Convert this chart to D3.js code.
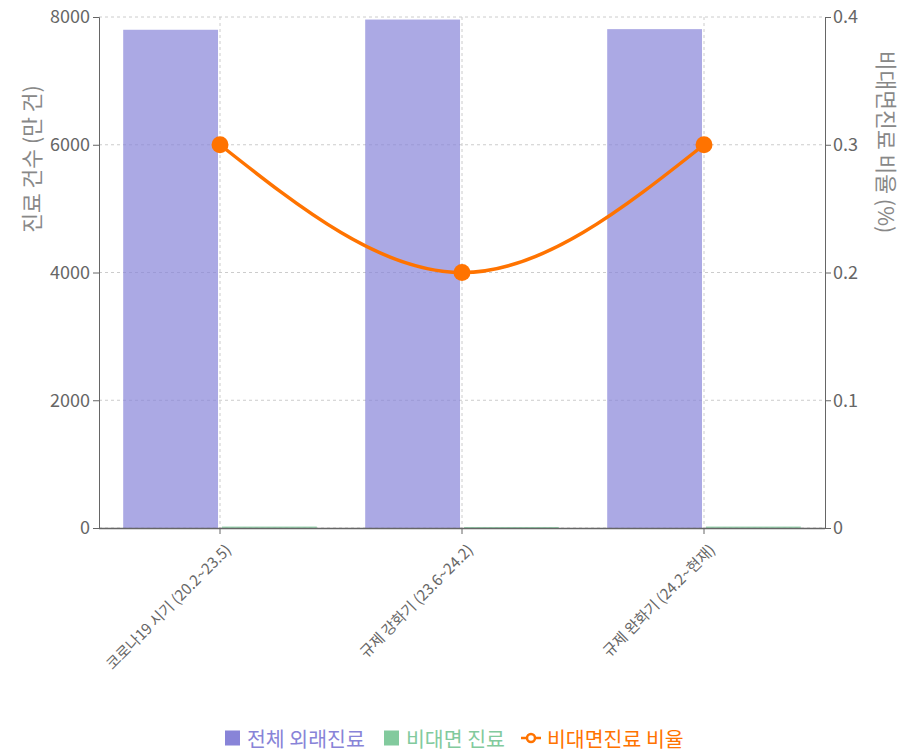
<!DOCTYPE html>
<html><head><meta charset="utf-8">
<script src="https://cdn.jsdelivr.net/npm/d3@7"></script>
<style>
body{margin:0;background:#fff;font-family:"Noto Sans CJK KR","Noto Sans",sans-serif;}
</style></head>
<body><svg id="c" width="920" height="754"></svg>
<script>
const categories = ["코로나19 시기 (20.2~23.5)", "규제 강화기 (23.6~24.2)", "규제 완화기 (24.2~현재)"];
const totalVisits = [7800, 7960, 7810];
const remoteVisits = [23, 16, 23];
const remoteRatio = [0.3, 0.2, 0.3];
const leftTicks = [0, 2000, 4000, 6000, 8000];
const rightTicks = [0, 0.1, 0.2, 0.3, 0.4];
const seriesNames = ["전체 외래진료", "비대면 진료", "비대면진료 비율"];

const svg = d3.select("#c");
const L = 99, R = 825, T = 17, B = 528;
const font = '"Noto Sans CJK KR","Noto Sans",sans-serif';
const axisColor = "#666";

const x0 = d3.scaleBand().domain(categories).range([L, R]).padding(0);
const bw = x0.bandwidth();
const x1 = d3.scaleBand().domain([0, 1]).range([bw * 0.1, bw * 0.9]).paddingInner(0.04);
const yL = d3.scaleLinear().domain([0, 8000]).range([B, T]);
const yR = d3.scaleLinear().domain([0, 0.4]).range([B, T]);
const cx = c => x0(c) + bw / 2;

// grid
const g = svg.append("g");
g.selectAll(".hg").data(leftTicks).join("line")
  .attr("x1", L).attr("x2", R).attr("y1", d => yL(d)).attr("y2", d => yL(d))
  .attr("stroke", "#ccc").attr("stroke-dasharray", "3 3");
g.selectAll(".vg").data(categories).join("line")
  .attr("x1", cx).attr("x2", cx).attr("y1", T).attr("y2", B)
  .attr("stroke", "#ccc").attr("stroke-dasharray", "3 3");

// bars
const bars = svg.append("g");
categories.forEach((c, i) => {
  bars.append("rect").attr("x", x0(c) + x1(0)).attr("width", x1.bandwidth())
    .attr("y", yL(totalVisits[i])).attr("height", B - yL(totalVisits[i]))
    .attr("fill", "#8884d8").attr("fill-opacity", 0.7);
  bars.append("rect").attr("x", x0(c) + x1(1)).attr("width", x1.bandwidth())
    .attr("y", yL(remoteVisits[i])).attr("height", B - yL(remoteVisits[i]))
    .attr("fill", "#82ca9d").attr("fill-opacity", 0.8);
});

// axes
function styleAxis(sel) {
  sel.selectAll("path,line").attr("stroke", axisColor);
  sel.selectAll("text").attr("fill", axisColor).attr("font-family", font);
}
const ax = svg.append("g").attr("transform", `translate(0,${B})`)
  .call(d3.axisBottom(x0).tickSizeOuter(0).tickSize(6));
ax.select(".domain").attr("d", `M${L},0.5H${R}`).attr("stroke-width", 1.5);
styleAxis(ax);
ax.selectAll("text").attr("font-size", 15).attr("text-anchor", "end")
  .attr("x", 0).attr("y", 0).attr("dy", 0)
  .attr("transform", "translate(12,23) rotate(-45)");

const ayl = svg.append("g").attr("transform", `translate(${L},0)`)
  .call(d3.axisLeft(yL).tickValues(leftTicks).tickSizeOuter(0).tickSize(6).tickFormat(d3.format("d")));
styleAxis(ayl);
ayl.selectAll("text").attr("font-size", 18).attr("x", -9);

const ayr = svg.append("g").attr("transform", `translate(${R},0)`)
  .call(d3.axisRight(yR).tickValues(rightTicks).tickSizeOuter(0).tickSize(6).tickFormat(d => d === 0 ? "0" : d3.format(".1f")(d)));
styleAxis(ayr);
ayr.selectAll("text").attr("font-size", 18).attr("x", 8);

// axis labels
svg.append("text").attr("transform", "translate(34,159) rotate(-90)")
  .attr("text-anchor", "middle").attr("dominant-baseline", "middle")
  .attr("font-family", font).attr("font-size", 21.5).attr("fill", "#888").text("진료 건수 (만 건)");
svg.append("text").attr("transform", "translate(884,142) rotate(90)")
  .attr("text-anchor", "middle").attr("dominant-baseline", "middle")
  .attr("font-family", font).attr("font-size", 21.5).attr("fill", "#888").text("비대면진료 비율 (%)");

// line
const pts = categories.map((c, i) => [cx(c), yR(remoteRatio[i])]);
svg.append("path").attr("d", d3.line().curve(d3.curveMonotoneX)(pts))
  .attr("fill", "none").attr("stroke", "#ff7300").attr("stroke-width", 3.5);
svg.append("g").selectAll("circle").data(pts).join("circle")
  .attr("cx", d => d[0]).attr("cy", d => d[1]).attr("r", 8.5).attr("fill", "#ff7300");

// legend
const lg = svg.append("g").attr("font-family", font).attr("font-size", 20.5);
const ly = 738;
lg.append("rect").attr("x", 225).attr("y", ly - 7.5).attr("width", 15).attr("height", 15).attr("fill", "#8884d8");
lg.append("text").attr("x", 247).attr("y", ly).attr("dominant-baseline", "central").attr("fill", "#8884d8").text(seriesNames[0]);
lg.append("rect").attr("x", 384).attr("y", ly - 7.5).attr("width", 15).attr("height", 15).attr("fill", "#82ca9d");
lg.append("text").attr("x", 406).attr("y", ly).attr("dominant-baseline", "central").attr("fill", "#82ca9d").text(seriesNames[1]);
lg.append("line").attr("x1", 521).attr("x2", 541).attr("y1", ly).attr("y2", ly).attr("stroke", "#ff7300").attr("stroke-width", 2.5);
lg.append("circle").attr("cx", 531).attr("cy", ly).attr("r", 4).attr("fill", "#fff").attr("stroke", "#ff7300").attr("stroke-width", 2.5);
lg.append("text").attr("x", 547).attr("y", ly).attr("dominant-baseline", "central").attr("fill", "#ff7300").text(seriesNames[2]);
</script></body></html>
